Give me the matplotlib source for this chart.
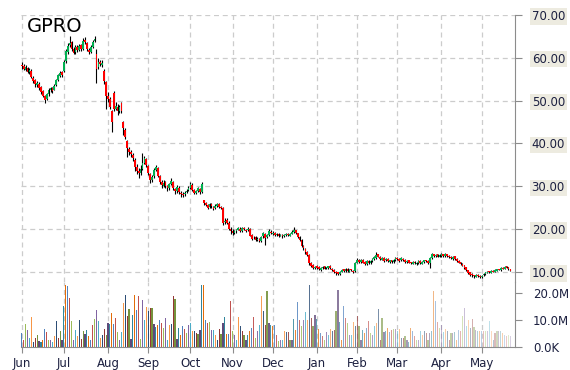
# GPRO - candles diarios + volume (jun/2015 a mai/2016)
import numpy as np
import pandas as pd
import matplotlib
matplotlib.use("Agg")
import matplotlib.pyplot as plt

ticker = "GPRO"
start_date = "2015-06-01"

# OHLC diario (um bloco por mes)
opens = [
    58.4, 58.1, 57.2, 57.6, 56.6, 57.0, 55.3, 54.8, 53.6, 54.0, 53.2, 52.2, 51.0, 50.4, 51.6, 52.4, 53.0, 52.6, 53.6, 54.9, 55.8, 56.6,
    57.0, 59.2, 61.4, 62.9, 63.7, 62.0, 61.3, 62.6, 61.9, 62.9, 62.1, 64.2, 63.4, 61.8, 61.4, 62.6, 63.9, 61.0, 57.8, 59.1, 58.4, 57.0, 54.3,
    51.2, 50.3, 47.5, 51.8, 48.1, 48.6, 47.6, 49.5, 45.0, 43.2, 40.5, 38.8, 37.9, 37.4, 36.2, 34.6, 33.6, 33.2, 34.1, 35.4, 36.3,
    34.8, 32.8, 31.4, 32.3, 33.9, 34.2, 32.4, 31.0, 30.1, 30.9, 30.1, 29.5, 30.6, 31.0, 29.4, 28.9, 29.7, 28.5, 28.3, 28.1, 28.6, 29.1,
    29.6, 30.4, 29.1, 28.4, 28.9, 29.4, 28.7, 26.8, 26.1, 25.7, 25.1, 25.9, 25.2, 24.9, 25.4, 25.9, 25.1, 25.0, 21.6, 22.1, 21.4, 20.1,
    19.6, 19.1, 19.5, 19.9, 20.1, 19.6, 20.2, 19.9, 19.7, 20.0, 18.6, 17.9, 18.1, 17.4, 17.7, 17.3, 18.3, 18.9, 18.1, 18.7, 19.4,
    18.9, 19.1, 18.7, 18.8, 18.5, 18.6, 18.4, 18.6, 18.9, 18.5, 18.9, 19.3, 19.7, 19.0, 18.1, 17.4, 16.1, 15.4, 14.7, 13.9, 12.1, 11.6, 11.0,
    11.3, 11.1, 10.5, 10.9, 11.3, 10.9, 11.0, 11.4, 10.8, 10.5, 10.1, 9.9, 9.6, 10.1, 10.6, 10.2, 10.7, 10.1, 10.6, 10.3, 10.2,
    12.1, 12.9, 12.3, 12.8, 12.3, 11.9, 12.6, 12.1, 12.5, 13.1, 13.3, 14.1, 13.5, 12.9, 13.3, 12.7, 13.1, 12.4, 12.8, 12.3, 12.8,
    13.3, 13.1, 12.7, 13.1, 12.9, 12.3, 12.7, 12.3, 11.9, 12.4, 11.9, 12.1, 12.6, 11.9, 12.3, 12.8, 12.6, 12.1, 13.3, 14.1, 13.7, 14.1, 13.5,
    13.8, 14.2, 13.7, 14.1, 13.8, 13.6, 13.1, 13.7, 13.1, 12.6, 12.3, 11.9, 11.6, 11.1, 10.4, 9.9, 9.5, 9.3, 8.9, 9.4, 9.1,
    8.9, 9.2, 9.5, 9.8, 10.2, 9.8, 10.3, 10.1, 10.3, 10.7, 10.4, 11.0, 10.8, 11.3, 11.1, 10.7,
]
highs = [
    59.0, 58.6, 58.3, 57.9, 57.6, 57.3, 55.8, 55.0, 54.6, 54.3, 53.4, 52.5, 51.3, 51.8, 52.9, 53.2, 53.3, 53.8, 55.1, 56.3, 56.9, 56.9,
    59.5, 62.0, 63.5, 65.0, 64.0, 62.5, 63.0, 63.0, 63.2, 63.2, 64.6, 64.8, 63.8, 62.3, 62.9, 64.2, 65.2, 62.0, 60.0, 59.6, 59.5, 57.4, 54.6,
    52.0, 50.8, 47.8, 52.3, 49.7, 49.2, 49.0, 49.8, 45.2, 43.6, 40.9, 39.2, 38.5, 37.8, 36.6, 35.2, 34.2, 35.0, 37.8, 37.0, 36.7,
    35.0, 33.2, 32.6, 34.2, 35.0, 34.6, 32.7, 31.4, 31.5, 31.2, 30.4, 30.8, 32.0, 31.3, 29.7, 30.2, 30.0, 28.9, 28.6, 28.9, 29.4, 30.0,
    31.0, 30.8, 29.4, 29.1, 29.8, 29.7, 30.9, 26.9, 26.4, 25.9, 26.1, 26.2, 25.5, 25.8, 26.2, 26.1, 25.5, 25.2, 22.5, 22.5, 21.8, 20.5,
    20.0, 19.9, 20.1, 20.5, 20.4, 20.6, 20.5, 20.1, 20.4, 20.2, 18.9, 18.4, 18.3, 18.1, 17.9, 18.5, 19.3, 19.2, 18.9, 20.0, 19.7,
    19.6, 19.3, 19.1, 19.0, 18.9, 18.8, 18.8, 19.0, 19.1, 19.1, 19.7, 20.5, 19.9, 19.2, 18.3, 17.6, 16.4, 15.7, 14.9, 14.2, 12.4, 11.9, 11.5,
    11.6, 11.3, 11.1, 11.4, 11.5, 11.2, 11.5, 11.6, 11.0, 10.7, 10.3, 10.1, 10.2, 10.8, 10.8, 10.9, 10.9, 10.7, 10.8, 10.5, 12.3,
    13.3, 13.1, 13.1, 13.0, 12.5, 12.7, 12.8, 12.8, 13.2, 13.7, 14.7, 14.3, 13.7, 13.4, 13.5, 13.2, 13.3, 12.9, 12.9, 13.1, 13.5,
    13.5, 13.2, 13.4, 13.3, 13.0, 12.8, 12.8, 12.4, 12.5, 12.5, 12.4, 12.7, 12.7, 12.6, 12.9, 12.9, 12.7, 13.4, 14.4, 14.3, 14.3, 14.2, 14.1,
    14.4, 14.3, 14.4, 14.2, 13.9, 13.8, 13.8, 13.8, 13.2, 12.8, 12.4, 12.0, 11.7, 11.2, 10.5, 10.0, 9.7, 9.4, 9.5, 9.5, 9.2,
    9.3, 9.8, 10.1, 10.3, 10.3, 10.4, 10.4, 10.6, 10.8, 10.8, 11.1, 11.1, 11.4, 11.5, 11.2, 10.8,
]
lows = [
    57.4, 57.1, 56.9, 56.4, 56.3, 55.2, 54.2, 53.3, 53.3, 52.6, 51.6, 50.8, 49.5, 50.1, 51.2, 52.1, 51.9, 52.4, 53.4, 54.6, 55.5, 55.6,
    56.8, 58.8, 61.0, 62.6, 61.7, 60.8, 61.0, 61.4, 61.6, 61.7, 61.9, 63.2, 61.7, 60.9, 61.1, 62.4, 63.6, 54.2, 57.5, 58.0, 57.9, 54.0, 48.0,
    49.8, 48.0, 42.7, 47.6, 47.8, 46.6, 47.2, 47.1, 42.0, 41.0, 36.8, 37.3, 36.9, 35.9, 33.5, 32.8, 32.0, 32.6, 33.8, 35.2, 34.6,
    32.6, 30.8, 31.1, 32.0, 33.5, 32.1, 30.6, 29.6, 29.8, 29.5, 29.0, 29.2, 30.3, 29.2, 28.2, 28.5, 28.3, 27.6, 27.5, 27.8, 28.4, 28.9,
    29.3, 29.0, 28.2, 28.1, 28.6, 28.2, 28.5, 25.6, 25.3, 24.6, 24.9, 25.0, 24.5, 24.7, 25.2, 25.0, 24.6, 21.0, 21.2, 21.1, 19.8, 18.8,
    18.7, 18.9, 19.2, 19.7, 19.3, 19.4, 19.8, 19.3, 19.5, 18.3, 17.4, 17.6, 17.2, 17.2, 16.9, 17.0, 18.0, 16.2, 17.9, 18.5, 18.8,
    18.7, 18.4, 18.5, 18.2, 18.3, 18.0, 18.2, 18.4, 18.4, 18.3, 18.8, 19.1, 18.8, 18.0, 17.2, 15.8, 15.2, 14.3, 13.7, 11.6, 11.1, 10.6, 10.8,
    10.8, 10.4, 10.3, 10.7, 10.6, 10.7, 10.8, 10.7, 10.2, 9.8, 9.4, 9.2, 9.4, 9.9, 10.1, 10.0, 10.0, 10.0, 10.2, 9.8, 10.1,
    12.0, 12.2, 12.1, 12.0, 11.6, 11.7, 11.8, 11.9, 12.3, 12.9, 13.1, 13.4, 12.8, 12.7, 12.4, 12.5, 12.3, 12.2, 12.2, 12.1, 12.6,
    12.8, 12.4, 12.5, 12.6, 12.2, 12.1, 12.0, 11.8, 11.8, 11.8, 11.7, 11.9, 11.9, 11.8, 12.1, 12.3, 11.8, 11.0, 13.1, 13.6, 13.6, 13.4, 13.4,
    13.6, 13.6, 13.6, 13.5, 13.3, 13.0, 12.9, 12.8, 12.3, 12.0, 11.6, 11.3, 10.8, 10.3, 9.6, 9.1, 8.9, 8.7, 8.8, 8.8, 8.6,
    8.7, 9.1, 9.4, 9.7, 9.8, 9.7, 9.9, 10.0, 10.2, 10.4, 10.3, 10.6, 10.7, 10.9, 10.5, 10.2,
]
closes = [
    58.0, 57.5, 57.8, 56.8, 57.2, 55.5, 54.6, 53.8, 54.2, 53.0, 52.0, 51.2, 50.2, 51.5, 52.6, 52.9, 52.3, 53.5, 54.8, 55.9, 56.4, 56.0,
    59.0, 61.5, 62.8, 63.5, 62.0, 61.2, 62.5, 61.8, 62.8, 62.0, 64.0, 63.6, 62.0, 61.3, 62.5, 63.8, 64.5, 57.5, 59.0, 58.5, 58.8, 54.5, 51.0,
    50.5, 48.5, 45.0, 48.0, 48.8, 47.5, 48.5, 47.5, 43.5, 41.5, 39.0, 38.0, 37.5, 36.5, 34.5, 33.5, 33.0, 34.0, 35.5, 36.5, 35.0,
    33.0, 31.5, 32.2, 33.8, 34.5, 32.5, 31.0, 30.2, 30.8, 30.0, 29.6, 30.5, 31.2, 29.5, 28.8, 29.8, 28.6, 28.2, 28.0, 28.5, 29.0, 29.5,
    30.5, 29.2, 28.5, 28.8, 29.5, 28.6, 30.5, 26.0, 25.6, 25.0, 25.8, 25.3, 24.8, 25.5, 25.8, 25.2, 25.0, 21.5, 22.0, 21.5, 20.0, 19.5,
    19.2, 19.6, 19.8, 20.2, 19.5, 20.3, 20.0, 19.6, 20.1, 18.5, 17.8, 18.0, 17.5, 17.8, 17.2, 18.2, 19.0, 18.0, 18.6, 19.5, 19.0,
    19.2, 18.6, 18.9, 18.4, 18.7, 18.3, 18.5, 18.8, 18.6, 18.9, 19.4, 19.8, 19.0, 18.2, 17.5, 16.0, 15.5, 14.6, 14.0, 12.0, 11.5, 11.0, 11.2,
    11.0, 10.6, 10.9, 11.2, 10.8, 11.0, 11.3, 10.9, 10.4, 10.0, 9.8, 9.5, 10.0, 10.5, 10.3, 10.6, 10.2, 10.5, 10.4, 10.0, 12.0,
    12.8, 12.4, 12.9, 12.2, 11.8, 12.5, 12.0, 12.6, 13.0, 13.4, 14.0, 13.6, 13.0, 13.2, 12.6, 13.0, 12.5, 12.7, 12.4, 12.9, 13.2,
    13.0, 12.6, 13.2, 12.8, 12.4, 12.6, 12.2, 12.0, 12.3, 12.0, 12.2, 12.5, 12.0, 12.4, 12.7, 12.5, 12.0, 13.2, 14.2, 13.8, 14.0, 13.6, 13.9,
    14.1, 13.8, 14.2, 13.7, 13.5, 13.2, 13.6, 13.0, 12.5, 12.2, 11.8, 11.5, 11.0, 10.5, 9.8, 9.4, 9.2, 9.0, 9.3, 9.0, 8.9,
    9.1, 9.6, 9.9, 10.1, 9.9, 10.2, 10.0, 10.4, 10.6, 10.5, 10.9, 10.7, 11.2, 11.0, 10.6, 10.3,
]
# volume em milhoes
volumes = [
    5.2, 2.5, 8.6, 6.4, 3.3, 11.1, 2.0, 3.3, 4.6, 2.3, 2.0, 2.5, 6.8, 5.4, 2.7, 2.7, 2.0, 4.0, 9.5, 3.3, 5.8, 2.5,
    15.0, 23.1, 22.7, 18.1, 9.8, 2.5, 6.4, 4.0, 10.1, 3.0, 5.8, 4.9, 6.4, 4.0, 2.5, 8.3, 10.5, 13.8, 9.5, 3.3, 4.6, 6.7, 4.6,
    8.9, 8.6, 12.6, 8.6, 10.7, 5.4, 2.5, 5.4, 16.3, 19.4, 11.4, 14.2, 3.0, 12.0, 19.4, 13.8, 18.8, 3.0, 17.3, 10.1, 14.8,
    13.3, 14.4, 14.4, 8.6, 7.4, 8.3, 9.9, 8.9, 7.0, 10.7, 2.5, 8.3, 8.6, 18.8, 17.8, 3.0, 7.0, 4.6, 7.7, 6.7, 5.2, 8.3,
    8.9, 6.1, 5.8, 5.2, 4.9, 6.4, 23.1, 23.1, 10.1, 8.9, 9.4, 6.4, 6.4, 4.6, 2.5, 6.8, 4.9, 8.9, 11.1, 4.8, 4.9, 16.9,
    5.8, 4.6, 2.5, 11.1, 7.7, 5.8, 4.6, 2.5, 4.6, 5.8, 7.0, 11.1, 3.5, 5.8, 8.3, 18.8, 13.2, 8.3, 20.9, 8.9, 8.3,
    7.7, 8.3, 4.6, 2.1, 2.5, 2.5, 5.8, 5.5, 5.5, 2.5, 2.5, 10.4, 6.4, 16.5, 10.1, 7.7, 10.1, 12.8, 9.9, 23.1, 10.7, 7.7, 12.0,
    10.4, 6.8, 5.2, 4.2, 2.5, 5.4, 4.6, 6.8, 5.8, 6.4, 13.5, 21.2, 9.1, 2.5, 15.3, 10.7, 8.9, 4.6, 4.6, 9.1, 7.7,
    11.6, 7.9, 2.5, 6.4, 5.2, 7.0, 9.5, 5.2, 4.6, 7.7, 8.9, 14.2, 2.5, 10.7, 5.4, 6.1, 7.0, 5.4, 6.4, 6.7, 6.7,
    5.8, 6.7, 3.3, 3.3, 4.2, 2.5, 2.0, 7.0, 5.8, 4.2, 2.7, 2.5, 5.8, 4.6, 5.8, 5.2, 2.5, 5.2, 5.8, 20.9, 16.9, 9.1, 7.0,
    8.3, 5.4, 6.7, 5.8, 2.5, 5.2, 5.2, 5.4, 2.5, 6.4, 6.1, 11.6, 14.4, 7.7, 10.1, 7.0, 10.4, 7.4, 6.4, 5.8, 5.8,
    5.8, 5.8, 5.8, 5.8, 9.5, 5.8, 2.5, 5.2, 5.8, 5.8, 6.1, 5.2, 4.6, 4.0, 4.6, 4.2,
]

price_ticks = [10, 20, 30, 40, 50, 60, 70]
volume_ticks = [0, 10, 20]
volume_labels = ["0.0K", "10.0M", "20.0M"]

n = len(closes)
assert len(opens) == n and len(highs) == n and len(lows) == n and len(volumes) == n, \
    (len(opens), len(highs), len(lows), len(closes), len(volumes))

dates = pd.bdate_range(start_date, periods=n)
idx = np.arange(n)
month_pos = [i for i in idx if i == 0 or dates[i].month != dates[i - 1].month]
month_lab = [dates[i].strftime("%b") for i in month_pos]

o = np.array(opens)
c = np.array(closes)
h = np.array(highs)
l = np.array(lows)
up = c >= o

grid_kw = dict(color="#CCCCCC", linestyle=(0, (4, 3)), linewidth=0.9)
axis_col = "#8C8C8C"
txt_col = "#1C2040"

fig = plt.figure(figsize=(5.7, 3.7), dpi=100)
ax = fig.add_axes([21 / 570, 1 - 282 / 370, 494 / 570, 267 / 370])
axv = fig.add_axes([21 / 570, 1 - 347 / 370, 494 / 570, 65 / 370])

# candles
ax.vlines(idx, np.minimum(l, np.minimum(o, c)), np.maximum(h, np.maximum(o, c)),
          color="black", linewidth=0.8, zorder=3)
body = np.maximum(np.abs(c - o), 0.15)
ax.bar(idx, body, bottom=np.minimum(o, c), width=0.9,
       color=np.where(up, "#00B050", "#FF0000"), linewidth=0, zorder=4)

ax.set_xlim(-0.4, 257.4)
ax.set_ylim(7.66, 70)
ax.set_yticks(price_ticks)
ax.set_yticklabels([f"{v:.2f}" for v in price_ticks])
ax.set_xticks(month_pos)
ax.grid(True, **grid_kw)
ax.set_axisbelow(True)
ax.yaxis.tick_right()
ax.tick_params(axis="y", length=5, color=axis_col, labelsize=8.5, pad=7, labelcolor=txt_col)
ax.tick_params(axis="x", length=0, labelbottom=False)
for t in ax.get_yticklabels():
    t.set_bbox(dict(facecolor="#EDEBE0", edgecolor="none", pad=1.2))
for s in ["top", "left", "bottom"]:
    ax.spines[s].set_visible(False)
ax.spines["right"].set_color(axis_col)
ax.patch.set_alpha(0)

fig.text(27 / 570, 1 - 17 / 370, ticker, fontsize=14, va="top", ha="left", color="black")

# volume: cores em ciclo, desbotando para o fim
paleta = ["#4F81BD", "#C0504D", "#9BBB59", "#8064A2", "#4BACC6", "#F79646",
          "#2C4D75", "#943634", "#76923C", "#5F497A", "#31859C", "#E36C09"]
alphas = np.clip(np.linspace(1.5, 0.3, n), 0, 1)
cores = [matplotlib.colors.to_rgba(paleta[i % len(paleta)], alphas[i]) for i in idx]
axv.bar(idx, volumes, width=0.6, color=cores, linewidth=0, zorder=3)

axv.set_xlim(-0.4, 257.4)
axv.set_ylim(0, 24.07)
axv.set_yticks(volume_ticks)
axv.set_yticklabels(volume_labels)
axv.set_xticks(month_pos)
axv.set_xticklabels(month_lab)
axv.grid(True, axis="x", **grid_kw)
axv.set_axisbelow(True)
axv.yaxis.tick_right()
axv.tick_params(axis="y", length=5, color=axis_col, labelsize=8.5, pad=8, labelcolor=txt_col)
axv.tick_params(axis="x", length=4, color=axis_col, labelsize=8.5, pad=3, labelcolor=txt_col)
for s in ["top", "left"]:
    axv.spines[s].set_visible(False)
axv.spines["right"].set_color(axis_col)
axv.spines["bottom"].set_color(axis_col)
axv.patch.set_alpha(0)

fig.savefig("out.png", dpi=100)
